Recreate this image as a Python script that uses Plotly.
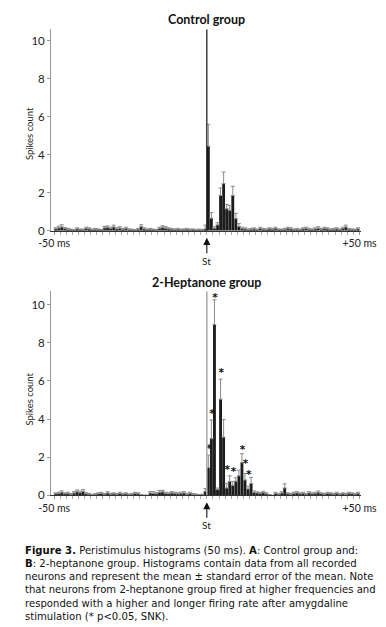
import numpy as np
import plotly.graph_objects as go

# ---------------- data ----------------
BIN_START_MS = list(range(-50, 50))  # 1-ms bins, left edges
STIM_MS = 0

control_mean = [
    0.10, 0.15, 0.20, 0.12, 0.08, 0.05, 0.04, 0.10, 0.06, 0.05,
    0.12, 0.10, 0.05, 0.08, 0.06, 0.04, 0.15, 0.18, 0.12, 0.20,
    0.10, 0.14, 0.08, 0.12, 0.06, 0.05, 0.04, 0.08, 0.22, 0.10,
    0.06, 0.08, 0.05, 0.04, 0.12, 0.18, 0.14, 0.10, 0.08, 0.06,
    0.08, 0.05, 0.06, 0.08, 0.05, 0.06, 0.04, 0.05, 0.03, 0.10,
    4.45, 0.66, 0.14, 0.31, 1.86, 2.48, 1.16, 1.08, 1.86, 0.64,
    0.23, 0.12, 0.10, 0.06, 0.08, 0.10, 0.05, 0.12, 0.08, 0.06,
    0.10, 0.08, 0.12, 0.06, 0.05, 0.08, 0.12, 0.10, 0.06, 0.08,
    0.05, 0.10, 0.12, 0.08, 0.06, 0.10, 0.14, 0.08, 0.12, 0.10,
    0.06, 0.08, 0.10, 0.06, 0.12, 0.20, 0.08, 0.06, 0.05, 0.10,
]
control_sem = [
    0.06, 0.10, 0.12, 0.06, 0.05, 0.04, 0.03, 0.06, 0.04, 0.04,
    0.07, 0.06, 0.04, 0.05, 0.04, 0.03, 0.08, 0.08, 0.07, 0.10,
    0.06, 0.08, 0.05, 0.07, 0.04, 0.04, 0.03, 0.05, 0.10, 0.06,
    0.04, 0.05, 0.04, 0.03, 0.07, 0.09, 0.08, 0.06, 0.05, 0.04,
    0.05, 0.04, 0.04, 0.05, 0.04, 0.04, 0.03, 0.04, 0.03, 0.20,
    1.15, 0.30, 0.08, 0.12, 0.40, 0.61, 0.23, 0.26, 0.48, 0.28,
    0.15, 0.07, 0.06, 0.04, 0.05, 0.06, 0.04, 0.07, 0.05, 0.04,
    0.06, 0.05, 0.07, 0.04, 0.04, 0.05, 0.07, 0.06, 0.04, 0.05,
    0.04, 0.06, 0.07, 0.05, 0.04, 0.06, 0.08, 0.05, 0.07, 0.06,
    0.04, 0.05, 0.06, 0.04, 0.07, 0.10, 0.05, 0.04, 0.04, 0.06,
]

heptanone_mean = [
    0.08, 0.10, 0.15, 0.08, 0.10, 0.05, 0.12, 0.18, 0.14, 0.20,
    0.08, 0.06, 0.02, 0.05, 0.08, 0.10, 0.05, 0.12, 0.06, 0.08,
    0.05, 0.10, 0.06, 0.08, 0.04, 0.06, 0.10, 0.08, 0.02, 0.00,
    0.00, 0.12, 0.10, 0.08, 0.15, 0.18, 0.10, 0.08, 0.12, 0.10,
    0.08, 0.10, 0.12, 0.06, 0.10, 0.05, 0.04, 0.02, 0.03, 0.20,
    1.45, 2.97, 8.95, 0.30, 5.04, 3.05, 0.38, 0.72, 0.52, 0.74,
    1.02, 1.71, 0.80, 0.33, 0.62, 0.15, 0.12, 0.10, 0.14, 0.08,
    0.02, 0.00, 0.10, 0.05, 0.12, 0.38, 0.08, 0.06, 0.10, 0.12,
    0.08, 0.10, 0.06, 0.12, 0.08, 0.10, 0.14, 0.08, 0.06, 0.10,
    0.08, 0.06, 0.10, 0.05, 0.08, 0.06, 0.10, 0.08, 0.06, 0.10,
]
heptanone_sem = [
    0.05, 0.06, 0.08, 0.05, 0.06, 0.04, 0.07, 0.10, 0.08, 0.10,
    0.05, 0.04, 0.02, 0.04, 0.05, 0.06, 0.04, 0.07, 0.04, 0.05,
    0.04, 0.06, 0.04, 0.05, 0.03, 0.04, 0.06, 0.05, 0.02, 0.00,
    0.00, 0.08, 0.10, 0.06, 0.10, 0.08, 0.06, 0.05, 0.07, 0.06,
    0.05, 0.06, 0.07, 0.04, 0.06, 0.04, 0.03, 0.02, 0.03, 0.15,
    0.65, 0.98, 1.30, 0.08, 1.05, 0.92, 0.25, 0.30, 0.20, 0.18,
    0.30, 0.47, 0.34, 0.15, 0.32, 0.08, 0.06, 0.05, 0.07, 0.05,
    0.02, 0.00, 0.06, 0.04, 0.07, 0.22, 0.05, 0.04, 0.06, 0.07,
    0.05, 0.06, 0.04, 0.07, 0.05, 0.06, 0.08, 0.05, 0.04, 0.06,
    0.05, 0.04, 0.06, 0.04, 0.05, 0.04, 0.06, 0.05, 0.04, 0.06,
]

# significant bins (ms after stimulus) and the height at which "*" is printed
star_bins = [0, 1, 2, 4, 6, 8, 11, 12, 13]
star_y = [2.40, 4.25, 10.35, 6.40, 1.30, 1.20, 2.35, 1.60, 1.05]

panel_titles = ["Control group", "2-Heptanone group"]
y_ticks = [0, 2, 4, 6, 8, 10]
x_ticks = [-50, 50]
x_tick_text = ["-50 ms", "+50 ms"]
y_label = "Spikes count"
stim_label = "St"

caption_lines = [
    "<b>Figure 3.</b> Peristimulus histograms (50 ms). <b>A</b>: Control group and:",
    "<b>B</b>: 2-heptanone group. Histograms contain data from all recorded",
    "neurons and represent the mean ± standard error of the mean. Note",
    "that neurons from 2-heptanone group fired at higher frequencies and",
    "responded with a higher and longer firing rate after amygdaline",
    "stimulation (* p&lt;0.05, SNK).",
]

# ---------------- layout helpers ----------------
W, H = 386, 627
def py(pix):  # pixel row -> paper y
    return 1 - pix / H
def px(pix):
    return pix / W

FONT = "Lato, 'Open Sans', sans-serif"
CAP_FONT = "'DejaVu Sans', sans-serif"
BAR_COLOR = "#1c1c1c"
ERR_COLOR = "#8a8a8a"

centers = [b + 0.5 for b in BIN_START_MS]

fig = go.Figure()
panels = [
    dict(mean=control_mean, sem=control_sem, xa="x", ya="y", yr=10.6, stim_color="#111111", stim_w=1.2),
    dict(mean=heptanone_mean, sem=heptanone_sem, xa="x2", ya="y2", yr=10.7, stim_color="#b0b0b0", stim_w=1.6),
]

for i, p in enumerate(panels):
    fig.add_trace(go.Bar(
        x=centers, y=p["mean"], width=0.94,
        marker=dict(color=BAR_COLOR, line=dict(width=0)),
        error_y=dict(type="data", array=p["sem"], arrayminus=[0] * len(p["sem"]),
                     symmetric=False, color=ERR_COLOR, thickness=1, width=2),
        xaxis=p["xa"], yaxis=p["ya"], showlegend=False, hoverinfo="skip",
    ))
    fig.add_shape(type="line", xref=p["xa"], yref=p["ya"],
                  x0=STIM_MS, x1=STIM_MS, y0=0, y1=p["yr"],
                  line=dict(color=p["stim_color"], width=p["stim_w"]), layer="above")

fig.add_trace(go.Scatter(
    x=[b + 0.7 for b in star_bins], y=star_y, mode="text", text=["<b>*</b>"] * len(star_bins),
    textfont=dict(family="'DejaVu Sans', sans-serif", size=10.5, color="#111"), textposition="middle center",
    xaxis="x2", yaxis="y2", showlegend=False, hoverinfo="skip", cliponaxis=False,
))

xdom = [px(32.5), px(368)]
axis_common_x = dict(
    range=[-51, 50.6], domain=xdom, showgrid=False, zeroline=False,
    showline=True, linecolor="#333", linewidth=1,
    tickmode="array", tickvals=x_ticks, ticktext=x_tick_text,
    ticks="outside", ticklen=3, tickcolor="#999", tickwidth=1,
    minor=dict(ticks="outside", ticklen=3, tickcolor="#aaa", dtick=2, tick0=0),
    tickfont=dict(family=FONT, size=10.5, color="#222"),
    fixedrange=True,
)
axis_common_y = dict(
    showgrid=False, zeroline=False, showline=True, linecolor="#999", linewidth=1,
    tickvals=y_ticks, ticks="outside", ticklen=3, tickcolor="#999",
    tickfont=dict(family=FONT, size=11.5, color="#222"), fixedrange=True,
)

fig.update_layout(
    width=W, height=H, margin=dict(l=0, r=0, t=0, b=0),
    paper_bgcolor="white", plot_bgcolor="white", bargap=0.05,
    xaxis=dict(**axis_common_x, anchor="y"),
    yaxis=dict(**axis_common_y, range=[0, panels[0]["yr"]],
               domain=[py(225), py(21.5)], anchor="x"),
    xaxis2=dict(**axis_common_x, anchor="y2"),
    yaxis2=dict(**axis_common_y, range=[0, panels[1]["yr"]],
                domain=[py(492), py(286)], anchor="x2"),
)

ann = []
for title, ypix in zip(panel_titles, [11.5, 277]):
    ann.append(dict(text=f"<b>{title}</b>", x=px(201), y=py(ypix), xref="paper", yref="paper",
                    showarrow=False, xanchor="center", yanchor="middle",
                    font=dict(family=FONT, size=12.5, color="#111")))
for ycen in [127, 395]:
    ann.append(dict(text=y_label, x=px(9), y=py(ycen), xref="paper", yref="paper",
                    showarrow=False, textangle=-90, xanchor="center", yanchor="middle",
                    font=dict(family=FONT, size=9.5, color="#222")))
for p, tip, txt in zip(panels, [232, 499], [255, 522]):
    ann.append(dict(text=stim_label, x=STIM_MS, y=py(tip), xref=p["xa"], yref="paper",
                    showarrow=True, arrowhead=2, arrowsize=1.3, arrowwidth=1.1,
                    arrowcolor="#111", ax=0, ay=txt - tip, standoff=0,
                    font=dict(family=FONT, size=10, color="#222")))
ann.append(dict(text="<br>".join(caption_lines), x=px(2), y=py(540), xref="paper", yref="paper",
                showarrow=False, xanchor="left", yanchor="top", align="left",
                font=dict(family=CAP_FONT, size=10.1, color="#111")))
fig.update_layout(annotations=ann)

fig.write_html("out.html")
